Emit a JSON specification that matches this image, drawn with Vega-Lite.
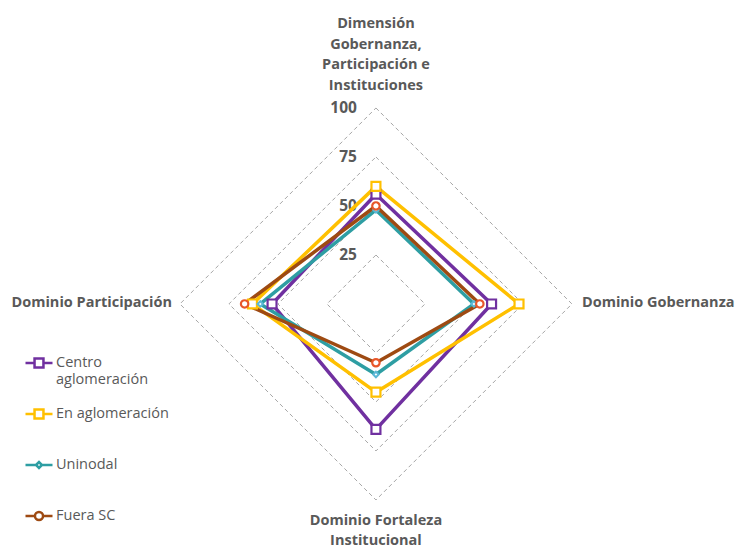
{
  "$schema": "https://vega.github.io/schema/vega-lite/v6.json",
  "autosize": "none",
  "padding": 0,
  "width": 736,
  "height": 546,
  "background": "white",
  "config": {"view": {"stroke": null}},
  "datasets": {
    "series": [
      {"s": "Centro aglomeración", "axis": "Dim", "v": 56},
      {"s": "Centro aglomeración", "axis": "Gob", "v": 59},
      {"s": "Centro aglomeración", "axis": "Fort", "v": 64},
      {"s": "Centro aglomeración", "axis": "Part", "v": 53},
      {"s": "En aglomeración", "axis": "Dim", "v": 60},
      {"s": "En aglomeración", "axis": "Gob", "v": 73},
      {"s": "En aglomeración", "axis": "Fort", "v": 45},
      {"s": "En aglomeración", "axis": "Part", "v": 63},
      {"s": "Uninodal", "axis": "Dim", "v": 48},
      {"s": "Uninodal", "axis": "Gob", "v": 50},
      {"s": "Uninodal", "axis": "Fort", "v": 36},
      {"s": "Uninodal", "axis": "Part", "v": 59},
      {"s": "Fuera SC", "axis": "Dim", "v": 50},
      {"s": "Fuera SC", "axis": "Gob", "v": 53},
      {"s": "Fuera SC", "axis": "Fort", "v": 30},
      {"s": "Fuera SC", "axis": "Part", "v": 67}
    ],
    "grid": [
      {"level": 25, "axis": "Dim"}, {"level": 25, "axis": "Gob"}, {"level": 25, "axis": "Fort"}, {"level": 25, "axis": "Part"},
      {"level": 50, "axis": "Dim"}, {"level": 50, "axis": "Gob"}, {"level": 50, "axis": "Fort"}, {"level": 50, "axis": "Part"},
      {"level": 75, "axis": "Dim"}, {"level": 75, "axis": "Gob"}, {"level": 75, "axis": "Fort"}, {"level": 75, "axis": "Part"},
      {"level": 100, "axis": "Dim"}, {"level": 100, "axis": "Gob"}, {"level": 100, "axis": "Fort"}, {"level": 100, "axis": "Part"}
    ]
  },
  "layer": [
    {
      "data": {"name": "grid"},
      "transform": [
        {"calculate": "datum.axis == 'Gob' ? datum.level : datum.axis == 'Part' ? -datum.level : 0", "as": "x"},
        {"calculate": "datum.axis == 'Dim' ? datum.level : datum.axis == 'Fort' ? -datum.level : 0", "as": "y"}
      ],
      "mark": {"type": "line", "interpolate": "linear-closed", "stroke": "#A6A6A6", "strokeWidth": 1, "strokeDash": [4, 3]},
      "encoding": {
        "x": {"field": "x", "type": "quantitative", "scale": {"domain": [-191.8, 183.7], "nice": false, "zero": false}, "axis": null},
        "y": {"field": "y", "type": "quantitative", "scale": {"domain": [-123.5, 155.1], "nice": false, "zero": false}, "axis": null},
        "detail": {"field": "level"},
        "order": {"value": null}
      }
    },
    {
      "data": {"name": "grid"},
      "transform": [
        {"filter": "datum.axis == 'Dim'"},
        {"calculate": "0", "as": "x"},
        {"calculate": "datum.level", "as": "y"}
      ],
      "mark": {"type": "text", "align": "right", "baseline": "middle", "dx": -19, "dy": 0, "font": "Open Sans", "fontWeight": "bold", "fontSize": 15.5, "color": "#595959"},
      "encoding": {
        "x": {"field": "x", "type": "quantitative"},
        "y": {"field": "y", "type": "quantitative"},
        "text": {"field": "level"}
      }
    },
    {
      "data": {"name": "series"},
      "transform": [
        {"calculate": "datum.axis == 'Gob' ? datum.v : datum.axis == 'Part' ? -datum.v : 0", "as": "x"},
        {"calculate": "datum.axis == 'Dim' ? datum.v : datum.axis == 'Fort' ? -datum.v : 0", "as": "y"}
      ],
      "mark": {"type": "line", "interpolate": "linear-closed", "strokeWidth": 3.5, "strokeJoin": "round"},
      "encoding": {
        "x": {"field": "x", "type": "quantitative"},
        "y": {"field": "y", "type": "quantitative"},
        "color": {
          "field": "s", "type": "nominal",
          "scale": {"domain": ["Centro aglomeración", "En aglomeración", "Uninodal", "Fuera SC"], "range": ["#7030A0", "#FFC000", "#2E9EA3", "#9E4A12"]},
          "legend": {
            "orient": "none", "legendX": 24, "legendY": 348, "title": null, "gridAlign": "all",
            "symbolSize": 729, "symbolStrokeWidth": 2.5, "symbolFillColor": "white", "symbolOpacity": 1,
            "labelFont": "Open Sans", "labelFontSize": 14.5, "labelColor": "#595959",
            "labelExpr": "datum.label == 'Centro aglomeración' ? ['Centro', 'aglomeración'] : datum.label",
            "rowPadding": 13, "labelOffset": 2, "labelBaseline": "middle"
          }
        },
        "order": {"value": null}
      }
    },
    {
      "data": {"name": "series"},
      "transform": [
        {"calculate": "datum.axis == 'Gob' ? datum.v : datum.axis == 'Part' ? -datum.v : 0", "as": "x"},
        {"calculate": "datum.axis == 'Dim' ? datum.v : datum.axis == 'Fort' ? -datum.v : 0", "as": "y"}
      ],
      "mark": {"type": "point", "filled": false, "opacity": 0, "size": 729},
      "encoding": {
        "x": {"field": "x", "type": "quantitative"},
        "y": {"field": "y", "type": "quantitative"},
        "color": {"field": "s", "type": "nominal"},
        "shape": {
          "field": "s", "type": "nominal",
          "scale": {"domain": ["Centro aglomeración", "En aglomeración", "Uninodal", "Fuera SC"], "range": [
            "M-1,0H-0.33M-0.33,-0.33H0.33V0.33H-0.33ZM0.33,0H1",
            "M-1,0H-0.33M-0.33,-0.33H0.33V0.33H-0.33ZM0.33,0H1",
            "M-1,0H-0.22M-0.22,0L0,-0.22L0.22,0L0,0.22ZM0.22,0H1",
            "M-1,0H-0.3M-0.3,0A0.3,0.3 0 1,0 0.3,0A0.3,0.3 0 1,0 -0.3,0ZM0.3,0H1"
          ]}
        }
      }
    },
    {
      "data": {"name": "series"},
      "transform": [
        {"filter": "datum.s == 'Centro aglomeración' || datum.s == 'En aglomeración'"},
        {"calculate": "datum.axis == 'Gob' ? datum.v : datum.axis == 'Part' ? -datum.v : 0", "as": "x"},
        {"calculate": "datum.axis == 'Dim' ? datum.v : datum.axis == 'Fort' ? -datum.v : 0", "as": "y"}
      ],
      "mark": {"type": "square", "filled": true, "fill": "white", "strokeWidth": 2.2, "opacity": 1, "size": 80},
      "encoding": {
        "x": {"field": "x", "type": "quantitative"},
        "y": {"field": "y", "type": "quantitative"},
        "stroke": {
          "field": "s", "type": "nominal",
          "scale": {"domain": ["Centro aglomeración", "En aglomeración", "Uninodal", "Fuera SC"], "range": ["#7030A0", "#FFC000", "#5BB8D6", "#E8572A"]},
          "legend": null
        }
      }
    },
    {
      "data": {"name": "series"},
      "transform": [
        {"filter": "datum.s == 'Uninodal'"},
        {"calculate": "datum.axis == 'Gob' ? datum.v : datum.axis == 'Part' ? -datum.v : 0", "as": "x"},
        {"calculate": "datum.axis == 'Dim' ? datum.v : datum.axis == 'Fort' ? -datum.v : 0", "as": "y"}
      ],
      "mark": {"type": "point", "shape": "diamond", "filled": true, "fill": "white", "stroke": "#5BB8D6", "strokeWidth": 2, "opacity": 1, "size": 30},
      "encoding": {
        "x": {"field": "x", "type": "quantitative"},
        "y": {"field": "y", "type": "quantitative"}
      }
    },
    {
      "data": {"name": "series"},
      "transform": [
        {"filter": "datum.s == 'Fuera SC'"},
        {"calculate": "datum.axis == 'Gob' ? datum.v : datum.axis == 'Part' ? -datum.v : 0", "as": "x"},
        {"calculate": "datum.axis == 'Dim' ? datum.v : datum.axis == 'Fort' ? -datum.v : 0", "as": "y"}
      ],
      "mark": {"type": "circle", "filled": true, "fill": "white", "stroke": "#E8572A", "strokeWidth": 2.2, "opacity": 1, "size": 55},
      "encoding": {
        "x": {"field": "x", "type": "quantitative"},
        "y": {"field": "y", "type": "quantitative"}
      }
    },
    {
      "data": {"values": [{"axis": "Dim", "label": "Dimensión\nGobernanza,\nParticipación e\nInstituciones"}]},
      "transform": [{"calculate": "0", "as": "x"}, {"calculate": "100", "as": "y"}],
      "mark": {"type": "text", "align": "center", "baseline": "top", "lineBreak": "\n", "lineHeight": 20.7, "dy": -91, "font": "Open Sans", "fontWeight": "bold", "fontSize": 14.5, "color": "#595959"},
      "encoding": {"x": {"field": "x", "type": "quantitative"}, "y": {"field": "y", "type": "quantitative"}, "text": {"field": "label"}}
    },
    {
      "data": {"values": [{"axis": "Gob", "label": "Dominio Gobernanza"}]},
      "transform": [{"calculate": "100", "as": "x"}, {"calculate": "0", "as": "y"}],
      "mark": {"type": "text", "align": "left", "baseline": "middle", "dx": 10, "dy": -1, "font": "Open Sans", "fontWeight": "bold", "fontSize": 14.5, "color": "#595959"},
      "encoding": {"x": {"field": "x", "type": "quantitative"}, "y": {"field": "y", "type": "quantitative"}, "text": {"field": "label"}}
    },
    {
      "data": {"values": [{"axis": "Part", "label": "Dominio Participación"}]},
      "transform": [{"calculate": "-100", "as": "x"}, {"calculate": "0", "as": "y"}],
      "mark": {"type": "text", "align": "right", "baseline": "middle", "dx": -8, "dy": -1, "font": "Open Sans", "fontWeight": "bold", "fontSize": 14.5, "color": "#595959"},
      "encoding": {"x": {"field": "x", "type": "quantitative"}, "y": {"field": "y", "type": "quantitative"}, "text": {"field": "label"}}
    },
    {
      "data": {"values": [{"axis": "Fort", "label": "Dominio Fortaleza\nInstitucional"}]},
      "transform": [{"calculate": "0", "as": "x"}, {"calculate": "-100", "as": "y"}],
      "mark": {"type": "text", "align": "center", "baseline": "top", "lineBreak": "\n", "lineHeight": 20, "dy": 14, "font": "Open Sans", "fontWeight": "bold", "fontSize": 14.5, "color": "#595959"},
      "encoding": {"x": {"field": "x", "type": "quantitative"}, "y": {"field": "y", "type": "quantitative"}, "text": {"field": "label"}}
    }
  ]
}
